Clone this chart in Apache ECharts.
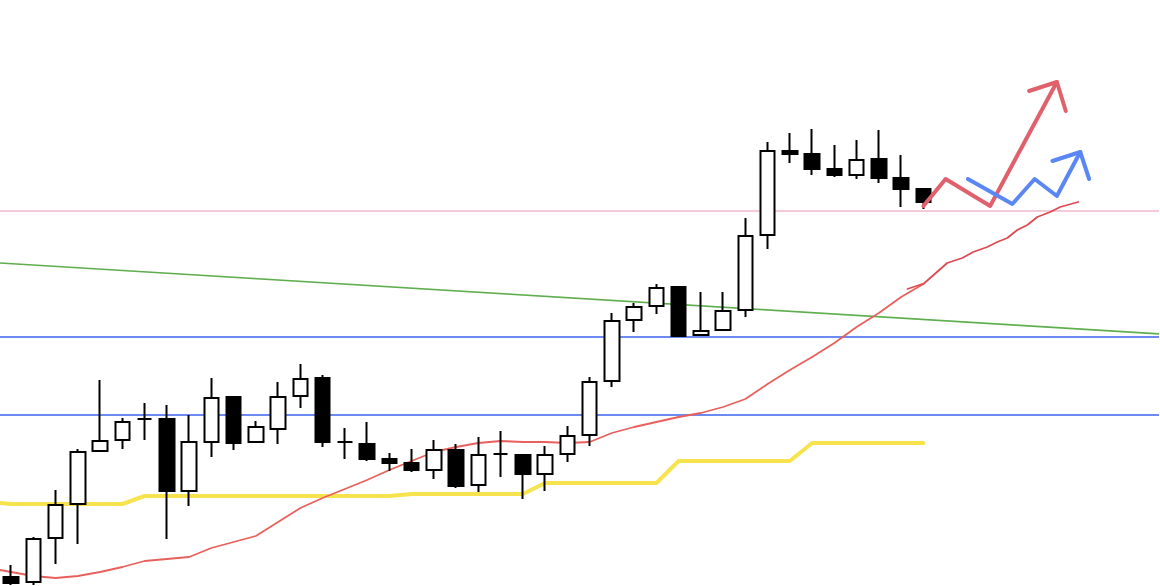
<!DOCTYPE html>
<html>
<head>
<meta charset="utf-8">
<script src="https://cdn.jsdelivr.net/npm/echarts@6/dist/echarts.min.js"></script>
<style>
  html, body { margin: 0; padding: 0; background: #fff; }
  #chart { width: 1160px; height: 586px; }
</style>
</head>
<body>
<div id="chart"></div>
<script>
// candles (price in points)
var opens  = [9, 4, 48, 82, 135, 146, 167, 167, 95, 144, 189, 144, 157, 190, 208, 144, 142, 127, 123, 116, 136, 101, 132, 131, 112, 132, 151, 205, 266, 280, 299, 251, 256, 276, 351, 435, 432, 417, 411, 427, 408, 397]
var closes = [3, 47, 81, 134, 145, 164, 167, 95, 144, 188, 143, 159, 189, 207, 144, 144, 127, 123, 116, 136, 100, 131, 132, 112, 131, 150, 204, 265, 279, 298, 250, 255, 275, 350, 435, 432, 417, 411, 426, 408, 397, 384]
var lows   = [1, 1, 22, 42, 135, 137, 146, 47, 80, 129, 136, 144, 142, 178, 139, 127, 125, 115, 114, 107, 98, 94, 109, 87, 95, 124, 140, 199, 254, 272, 250, 250, 256, 269, 337, 423, 411, 409, 407, 403, 379, 377]
var highs  = [21, 49, 96, 137, 206, 168, 183, 181, 171, 208, 189, 165, 204, 222, 211, 158, 164, 133, 137, 146, 142, 149, 155, 131, 140, 160, 209, 273, 283, 302, 299, 294, 294, 368, 444, 453, 457, 441, 446, 456, 431, 398]

// moving average (red) and slow line (yellow), first value is the left edge
var maLine = [16, 14, 10, 8, 10, 14, 19, 25, 27, 29, 38, 44, 50, 64, 78, 88, 97, 106, 116, 125, 134, 139, 143, 145, 144, 144, 143, 144, 153, 159, 164, 169, 173, 179, 187, 202, 216, 229, 243, 259, 273, 289, 302]
var yellowLine = [83, 82, 82, 82, 82, 82, 82, 90, 90, 90, 90, 90, 90, 90, 90, 90, 90, 90, 90, 92, 92, 92, 92, 92, 92, 103, 103, 103, 103, 103, 103, 125, 125, 125, 125, 125, 125, 143, 143, 143, 143, 143, 143]

// levels (drawn edge to edge of the picture)
var pinkLevel = 375
var blueLevels = [249, 171]
var trendLine = [[-0.5, 323], [51.65, 252]]
var edges = [-0.5, 51.65]

// hand drawn scenario (x = bar index)
var sketchMa = [[41, 302], [42.07, 323], [42.75, 328], [43.24, 334], [43.87, 339], [44.32, 344], [44.77, 348], [45.22, 356], [45.67, 361], [46.12, 369], [46.7, 374], [47.15, 379], [47.96, 384]]
var sketchMa2 = [[40.28, 297], [40.95, 302]]
var redPath = [[41, 380], [42, 407], [44, 380], [47, 504]]
var redHead = [[45.75, 495], [47, 504], [47.4, 475]]
var bluePath = [[43, 407], [45, 382], [46, 407], [47, 390], [48.05, 434]]
var blueHead = [[46.8, 425], [48.05, 434], [48.45, 407]]

var nCats = 52
var cats = []
for (var i = 0; i < nCats; i++) cats.push(String(i + 1))

var candles = opens.map(function (o, i) {
  return [o, closes[i], lows[i], highs[i]]
})
function onBars (arr) {
  // first value sits at the left edge, the rest on bar centres
  return arr.map(function (v, i) { return [i === 0 ? -0.5 : i - 1, v] })
}
function level (v) {
  return [[edges[0], v], [edges[1], v]]
}

function line (data, color, width, z) {
  return {
    type: 'line',
    xAxisIndex: 1,
    data: data,
    symbol: 'none',
    silent: true,
    clip: false,
    lineStyle: { color: color, width: width, cap: 'round', join: 'round' },
    z: z || 3
  }
}

var myChart = echarts.init(document.getElementById('chart'))

myChart.setOption({
  animation: false,
  backgroundColor: '#fff',
  grid: { left: -1, right: 3, top: 0, bottom: 0 },
  xAxis: [
    { type: 'category', data: cats, boundaryGap: true, show: false },
    { type: 'value', min: -0.5, max: nCats - 0.5, show: false }
  ],
  yAxis: { type: 'value', min: 0, max: 586, show: false },
  series: [
    line(level(pinkLevel), '#f0b8c8', 1.5, 2),
    line(level(blueLevels[0]), '#3a64ee', 1.5, 2),
    line(level(blueLevels[1]), '#3a64ee', 1.5, 2),
    line(onBars(yellowLine), '#f6e34e', 4),
    line(trendLine, '#5fae4e', 1.6),
    line(onBars(maLine), '#e8605c', 1.8),
    line(sketchMa, '#dc4a52', 1.8),
    line(sketchMa2, '#dc4a52', 1.5),
    {
      type: 'candlestick',
      xAxisIndex: 0,
      data: candles,
      barWidth: 15,
      z: 4,
      itemStyle: {
        color: '#fff',
        color0: '#000',
        borderColor: '#000',
        borderColor0: '#000',
        borderWidth: 2
      }
    },
    line(redPath, '#e0616b', 4, 5),
    line(redHead, '#e0616b', 4, 5),
    line(bluePath, '#5a87f3', 4, 5),
    line(blueHead, '#5a87f3', 4, 5)
  ]
})
</script>
</body>
</html>
